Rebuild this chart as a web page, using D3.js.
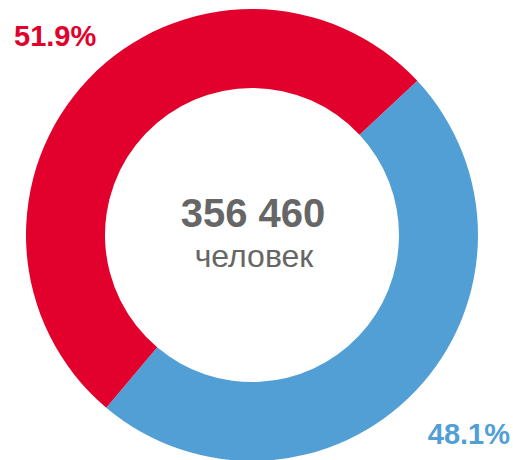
<!DOCTYPE html>
<html><head><meta charset="utf-8">
<script src="https://cdn.jsdelivr.net/npm/d3@7"></script>
<style>html,body{margin:0;padding:0;background:#fff;}svg{display:block;}</style>
</head><body>
<svg id="c" width="513" height="460"></svg>
<script>
const categories = ["blue", "red"];
const values = [48.1, 51.9];
const labels = ["48.1%", "51.9%"];
const colors = ["#529FD6", "#E2002C"];
const totalText = "356 460";
const unitText = "человек";

const svg = d3.select("#c");
const cx = 252, cy = 235, R = 226, r = 147;
const g = svg.append("g").attr("transform", `translate(${cx},${cy})`);
const pie = d3.pie().sort(null).value(d => d).startAngle(47 * Math.PI / 180).endAngle(47 * Math.PI / 180 + 2 * Math.PI);
const arc = d3.arc().innerRadius(r).outerRadius(R);
g.selectAll("path").data(pie(values)).join("path")
  .attr("d", arc).attr("fill", (d, i) => colors[i]);

const font = "Arial, 'Liberation Sans', sans-serif";
g.append("text").attr("x", 1).attr("y", -8).attr("text-anchor", "middle")
  .attr("font-family", font).attr("font-weight", "bold").attr("font-size", 40)
  .attr("fill", "#666666").text(totalText);
g.append("text").attr("x", 2).attr("y", 32).attr("text-anchor", "middle")
  .attr("font-family", font).attr("font-size", 32)
  .attr("fill", "#666666").text(unitText);

svg.append("text").attr("x", 14).attr("y", 46).attr("text-anchor", "start")
  .attr("font-family", font).attr("font-weight", "bold").attr("font-size", 29)
  .attr("fill", colors[1]).text(labels[1]);
svg.append("text").attr("x", 510).attr("y", 444).attr("text-anchor", "end")
  .attr("font-family", font).attr("font-weight", "bold").attr("font-size", 29)
  .attr("fill", colors[0]).text(labels[0]);
</script>
</body></html>
